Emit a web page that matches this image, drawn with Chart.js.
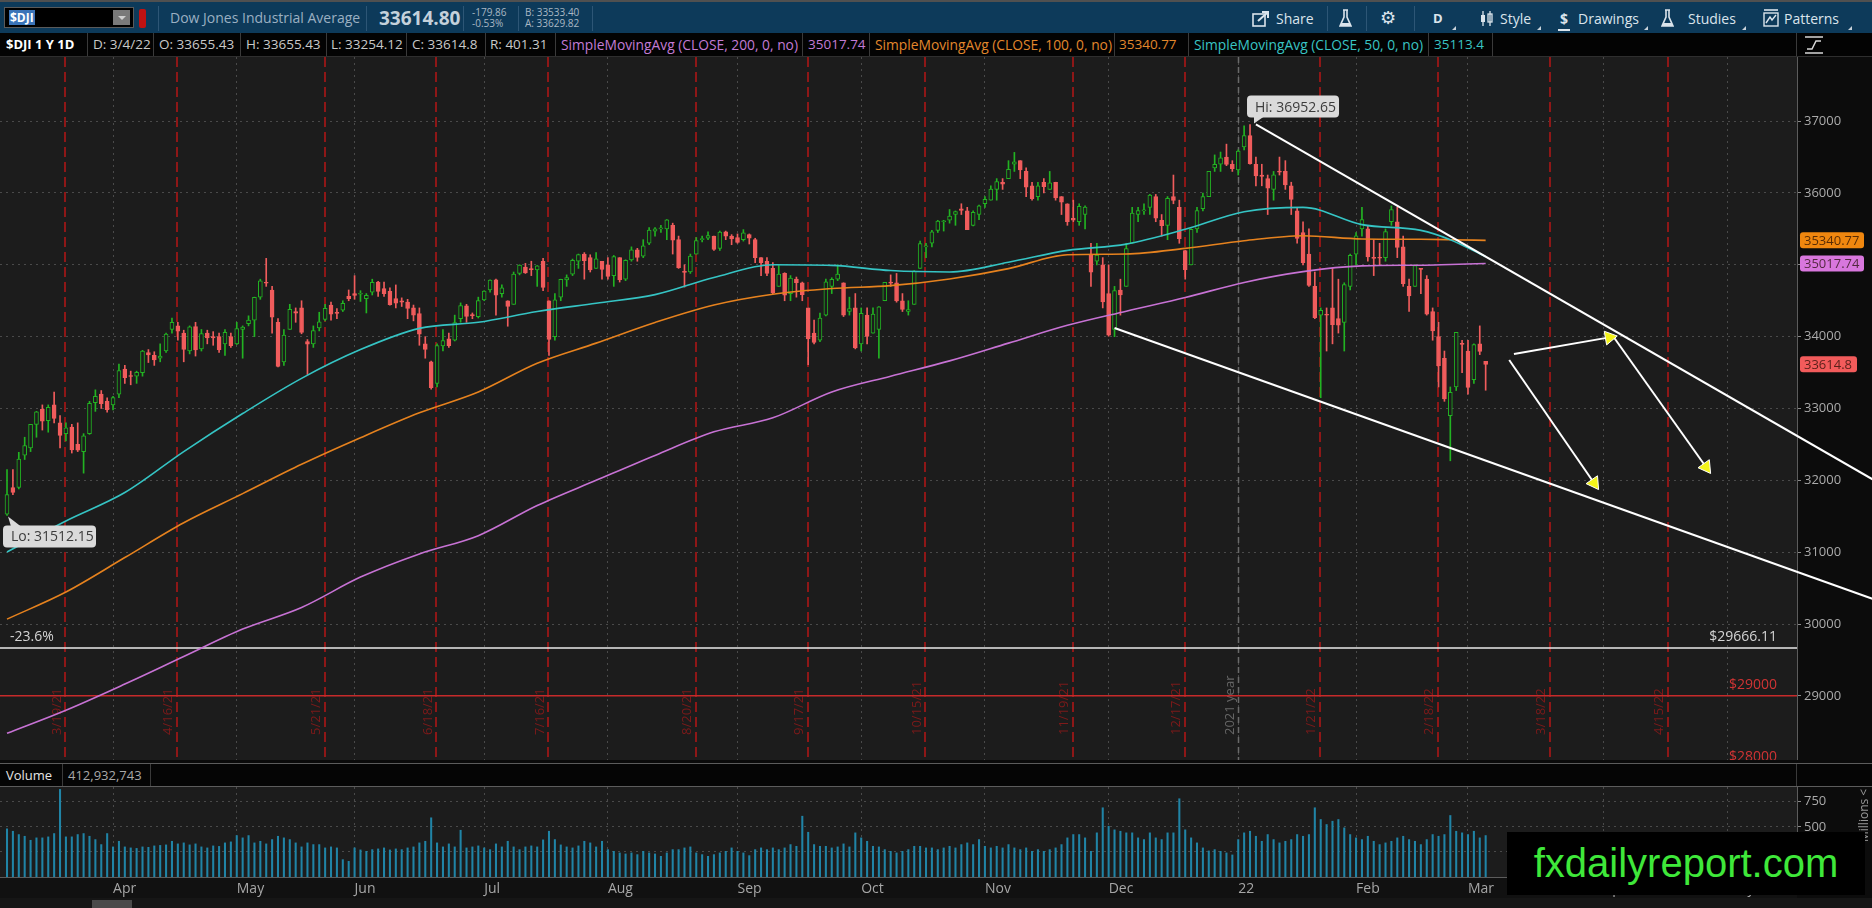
<!DOCTYPE html>
<html>
<head>
<meta charset="utf-8">
<title>$DJI 1 Y 1D</title>
<script src="https://cdn.jsdelivr.net/npm/chart.js@4.4.1/dist/chart.umd.min.js"></script>
<style>
  html, body { margin: 0; padding: 0; background: #0c0c0c; }
  body { width: 1872px; height: 908px; overflow: hidden; position: relative; font-family: "Open Sans", "DejaVu Sans", sans-serif; }
  .abs { position: absolute; white-space: nowrap; }
  #topbar { left: 0; top: 0; width: 1872px; height: 33px; background: #0d3a5a; border-top: 2px solid #505050; box-sizing: border-box; }
  #sym { left: 4px; top: 5px; width: 130px; height: 21px; background: #000; border: 1px solid #5a5a5a; box-sizing: border-box; }
  #sym .sel { position: absolute; left: 4px; top: 2px; background: #3b74b8; color: #fff; font-weight: 700; font-size: 12px; line-height: 15px; padding: 0 1px; }
  #sym .dd { position: absolute; right: 3px; top: 2px; width: 17px; height: 15px; background: #7a7a7a; }
  #sym .dd:after { content: ""; position: absolute; left: 5px; top: 6px; border-left: 4px solid transparent; border-right: 4px solid transparent; border-top: 4px solid #d0d0d0; }
  .flag { left: 139px; top: 7px; width: 7px; height: 19px; background: #c01212; border-radius: 2px; }
  .sep { top: 4px; width: 1px; height: 25px; background: #2d5676; }
  .tb { top: 7px; font-size: 14px; color: #dbe4ec; }
  .tri { width: 0; height: 0; border-left: 4px solid transparent; border-bottom: 4px solid #c8d2da; top: 24px; }
  #infobar { left: 0; top: 33px; width: 1872px; height: 24px; background: #030303; border-bottom: 1px solid #2e2e2e; box-sizing: border-box; }
  .cell { top: 0; height: 23px; line-height: 23px; font-size: 13.5px; color: #c9c9c9; }
  .vline { top: 0; width: 1px; height: 23px; background: #3a3a3a; }
  #pricePane { left: 0; top: 57px; width: 1872px; height: 703px; }
  #volHead { left: 0; top: 763px; width: 1872px; height: 24px; background: #050505; border-top: 1px solid #5c5c5c; border-bottom: 1px solid #5c5c5c; box-sizing: border-box; }
  #volPane { left: 0; top: 787px; width: 1872px; height: 111px; }
  #bottomBar { left: 0; top: 898px; width: 1872px; height: 10px; background: #161616; }
  #mark { left: 1507px; top: 832px; width: 358px; height: 63px; background: #000; color: #3fe83a; font-family: "Liberation Sans", Arial, sans-serif; font-size: 40px; line-height: 62px; text-align: center; }
</style>
</head>
<body>

<div id="topbar" class="abs">
  <div id="sym" class="abs"><span class="sel">$DJI</span><div class="dd"></div></div>
  <div class="abs flag"></div>
  <div class="abs sep" style="left:158px"></div>
  <div class="abs" style="left:170px;top:6px;font-size:14px;color:#9bb0c2">Dow Jones Industrial Average</div>
  <div class="abs sep" style="left:366px"></div>
  <div class="abs" style="left:379px;top:3px;font-size:19px;font-weight:700;color:#c4d1db">33614.80</div>
  <div class="abs sep" style="left:463px"></div>
  <div class="abs" style="left:472px;top:5px;font-size:10px;line-height:11px;color:#a9b7c3">-179.86<br>-0.53%</div>
  <div class="abs sep" style="left:518px"></div>
  <div class="abs" style="left:525px;top:5px;font-size:10px;line-height:11px;color:#a9b7c3">B: 33533.40<br>A: 33629.82</div>
  <div class="abs sep" style="left:592px"></div>

  <svg class="abs" style="left:1252px;top:8px" width="18" height="17" viewBox="0 0 18 17"><rect x="1" y="4" width="12" height="12" fill="none" stroke="#dbe4ec" stroke-width="1.6"/><path d="M6 11 L15 3 M10 2 L16 2 L16 8" stroke="#dbe4ec" stroke-width="2" fill="none"/></svg>
  <div class="abs tb" style="left:1276px">Share</div>
  <div class="abs sep" style="left:1327px"></div>
  <svg class="abs" style="left:1339px;top:7px" width="13" height="19" viewBox="0 0 13 19"><path d="M4 1 L9 1 M5 1 L5 8 L1 17 L12 17 L8 8 L8 1" stroke="#dbe4ec" stroke-width="1.6" fill="none"/><path d="M2.5 14 L10.5 14 L12 17 L1 17 Z" fill="#dbe4ec"/></svg>
  <div class="abs sep" style="left:1366px"></div>
  <div class="abs" style="left:1380px;top:3px;font-size:18px;color:#dbe4ec">&#9881;</div>
  <div class="abs sep" style="left:1414px"></div>
  <div class="abs tb" style="left:1433px;font-weight:700;font-size:13px">D</div>
  <div class="abs tri" style="left:1452px"></div>
  <svg class="abs" style="left:1479px;top:8px" width="16" height="17" viewBox="0 0 16 17"><path d="M4 1 L4 16 M11 1 L11 16" stroke="#dbe4ec" stroke-width="1.3"/><rect x="2" y="5" width="4" height="7" fill="#dbe4ec"/><rect x="9" y="4" width="4" height="8" fill="none" stroke="#dbe4ec" stroke-width="1.3"/></svg>
  <div class="abs tb" style="left:1500px">Style</div>
  <div class="abs tri" style="left:1537px"></div>
  <div class="abs tb" style="left:1560px;font-weight:700">$</div>
  <div class="abs" style="left:1558px;top:27px;width:12px;height:2px;background:#dbe4ec"></div>
  <div class="abs tb" style="left:1578px">Drawings</div>
  <div class="abs tri" style="left:1644px"></div>
  <svg class="abs" style="left:1661px;top:7px" width="13" height="19" viewBox="0 0 13 19"><path d="M4 1 L9 1 M5 1 L5 8 L1 17 L12 17 L8 8 L8 1" stroke="#dbe4ec" stroke-width="1.6" fill="none"/><path d="M2.5 14 L10.5 14 L12 17 L1 17 Z" fill="#dbe4ec"/></svg>
  <div class="abs tb" style="left:1688px">Studies</div>
  <div class="abs tri" style="left:1742px"></div>
  <svg class="abs" style="left:1763px;top:7px" width="16" height="18" viewBox="0 0 16 18"><rect x="1" y="4" width="14" height="13" fill="none" stroke="#dbe4ec" stroke-width="1.4"/><path d="M1 1 L15 1" stroke="#dbe4ec" stroke-width="1.6"/><path d="M3 14 L7 8 L9 11 L13 6" stroke="#dbe4ec" stroke-width="1.4" fill="none"/></svg>
  <div class="abs tb" style="left:1784px">Patterns</div>
  <div class="abs tri" style="left:1848px"></div>
</div>

<div id="infobar" class="abs">
  <div class="abs cell" style="left:6px;color:#fff;font-weight:700;font-size:13px">$DJI 1 Y 1D</div>
  <div class="abs vline" style="left:87px"></div>
  <div class="abs cell" style="left:93px">D: 3/4/22</div>
  <div class="abs vline" style="left:153px"></div>
  <div class="abs cell" style="left:159px">O: 33655.43</div>
  <div class="abs vline" style="left:240px"></div>
  <div class="abs cell" style="left:246px">H: 33655.43</div>
  <div class="abs vline" style="left:326px"></div>
  <div class="abs cell" style="left:331px">L: 33254.12</div>
  <div class="abs vline" style="left:406px"></div>
  <div class="abs cell" style="left:412px">C: 33614.8</div>
  <div class="abs vline" style="left:485px"></div>
  <div class="abs cell" style="left:490px">R: 401.31</div>
  <div class="abs vline" style="left:555px"></div>
  <div class="abs cell" style="left:561px;color:#c27bd5;font-size:13.8px">SimpleMovingAvg (CLOSE, 200, 0, no)</div>
  <div class="abs vline" style="left:802px"></div>
  <div class="abs cell" style="left:808px;color:#c27bd5">35017.74</div>
  <div class="abs vline" style="left:869px"></div>
  <div class="abs cell" style="left:875px;color:#e2872c;font-size:13.8px">SimpleMovingAvg (CLOSE, 100, 0, no)</div>
  <div class="abs vline" style="left:1114px"></div>
  <div class="abs cell" style="left:1119px;color:#e2872c">35340.77</div>
  <div class="abs vline" style="left:1188px"></div>
  <div class="abs cell" style="left:1194px;color:#39c4c4;font-size:13.8px">SimpleMovingAvg (CLOSE, 50, 0, no)</div>
  <div class="abs vline" style="left:1428px"></div>
  <div class="abs cell" style="left:1434px;color:#39c4c4">35113.4</div>
  <div class="abs vline" style="left:1492px"></div>
  <div class="abs vline" style="left:1796px"></div>
  <svg class="abs" style="left:1804px;top:3px" width="20" height="18" viewBox="0 0 20 18"><path d="M1 1 L19 1 M1 17 L19 17" stroke="#d8d8d8" stroke-width="1.5"/><path d="M3 13 L8 13 L12 5 L17 5" stroke="#d8d8d8" stroke-width="1.5" fill="none"/></svg>
</div>

<div id="pricePane" class="abs"><canvas id="priceChart"></canvas></div>
<div class="abs" style="left:0;top:760px;width:1872px;height:3px;background:#0a0a0a"></div>

<div id="volHead" class="abs">
  <div class="abs cell" style="left:6px;color:#e4e4e4;height:22px;line-height:22px;font-size:13px">Volume</div>
  <div class="abs vline" style="left:62px;height:22px"></div>
  <div class="abs cell" style="left:68px;height:22px;line-height:22px;color:#a8a8a8;font-size:13px">412,932,743</div>
  <div class="abs vline" style="left:150px;height:22px"></div>
  <div class="abs vline" style="left:1796px;height:22px"></div>
</div>
<div id="volPane" class="abs"><canvas id="volChart"></canvas></div>
<div class="abs" style="left:1855px;top:842px;transform:rotate(-90deg);transform-origin:left top;font-size:12px;color:#9a9a9a">Millions &lt;</div>
<div id="bottomBar" class="abs"><div class="abs" style="left:92px;top:2px;width:40px;height:8px;background:#4a4a4a"></div></div>
<div id="mark" class="abs">fxdailyreport.com</div>

<script>
// trading days, index 0 = 3/8/21
const dates = [
  "3/8/21","3/9/21","3/10/21","3/11/21","3/12/21","3/15/21","3/16/21","3/17/21","3/18/21","3/19/21","3/22/21","3/23/21","3/24/21","3/25/21","3/26/21","3/29/21","3/30/21","3/31/21",
  "4/1/21","4/5/21","4/6/21","4/7/21","4/8/21","4/9/21","4/12/21","4/13/21","4/14/21","4/15/21","4/16/21","4/19/21","4/20/21","4/21/21","4/22/21","4/23/21","4/26/21","4/27/21","4/28/21","4/29/21","4/30/21",
  "5/3/21","5/4/21","5/5/21","5/6/21","5/7/21","5/10/21","5/11/21","5/12/21","5/13/21","5/14/21","5/17/21","5/18/21","5/19/21","5/20/21","5/21/21","5/24/21","5/25/21","5/26/21","5/27/21","5/28/21",
  "6/1/21","6/2/21","6/3/21","6/4/21","6/7/21","6/8/21","6/9/21","6/10/21","6/11/21","6/14/21","6/15/21","6/16/21","6/17/21","6/18/21","6/21/21","6/22/21","6/23/21","6/24/21","6/25/21","6/28/21","6/29/21","6/30/21",
  "7/1/21","7/2/21","7/6/21","7/7/21","7/8/21","7/9/21","7/12/21","7/13/21","7/14/21","7/15/21","7/16/21","7/19/21","7/20/21","7/21/21","7/22/21","7/23/21","7/26/21","7/27/21","7/28/21","7/29/21","7/30/21",
  "8/2/21","8/3/21","8/4/21","8/5/21","8/6/21","8/9/21","8/10/21","8/11/21","8/12/21","8/13/21","8/16/21","8/17/21","8/18/21","8/19/21","8/20/21","8/23/21","8/24/21","8/25/21","8/26/21","8/27/21","8/30/21","8/31/21",
  "9/1/21","9/2/21","9/3/21","9/7/21","9/8/21","9/9/21","9/10/21","9/13/21","9/14/21","9/15/21","9/16/21","9/17/21","9/20/21","9/21/21","9/22/21","9/23/21","9/24/21","9/27/21","9/28/21","9/29/21","9/30/21",
  "10/1/21","10/4/21","10/5/21","10/6/21","10/7/21","10/8/21","10/11/21","10/12/21","10/13/21","10/14/21","10/15/21","10/18/21","10/19/21","10/20/21","10/21/21","10/22/21","10/25/21","10/26/21","10/27/21","10/28/21","10/29/21",
  "11/1/21","11/2/21","11/3/21","11/4/21","11/5/21","11/8/21","11/9/21","11/10/21","11/11/21","11/12/21","11/15/21","11/16/21","11/17/21","11/18/21","11/19/21","11/22/21","11/23/21","11/24/21","11/26/21","11/29/21","11/30/21",
  "12/1/21","12/2/21","12/3/21","12/6/21","12/7/21","12/8/21","12/9/21","12/10/21","12/13/21","12/14/21","12/15/21","12/16/21","12/17/21","12/20/21","12/21/21","12/22/21","12/23/21","12/27/21","12/28/21","12/29/21","12/30/21","12/31/21",
  "1/3/22","1/4/22","1/5/22","1/6/22","1/7/22","1/10/22","1/11/22","1/12/22","1/13/22","1/14/22","1/18/22","1/19/22","1/20/22","1/21/22","1/24/22","1/25/22","1/26/22","1/27/22","1/28/22","1/31/22",
  "2/1/22","2/2/22","2/3/22","2/4/22","2/7/22","2/8/22","2/9/22","2/10/22","2/11/22","2/14/22","2/15/22","2/16/22","2/17/22","2/18/22","2/22/22","2/23/22","2/24/22","2/25/22","2/28/22",
  "3/1/22","3/2/22","3/3/22","3/4/22"
];

const openPx = [
  31530,31900,31900,32350,32450,32780,32990,32830,33050,32800,32650,32740,32500,32400,32650,33080,33200,33100,
  33050,33200,33550,33450,33450,33500,33780,33740,33700,33800,34100,34150,34050,33800,34140,33830,34050,34000,34000,33900,34000,
  33900,34100,34180,34230,34550,34750,34650,34200,33650,34100,34350,34400,33930,33900,34120,34240,34440,34340,34370,34560,
  34600,34590,34530,34620,34760,34670,34630,34530,34500,34480,34400,34320,33900,33650,33350,33870,33970,33950,34250,34430,34300,34280,
  34510,34650,34790,34600,34500,34450,34880,34970,34940,34930,35050,34500,34000,34550,34790,34870,35050,35150,35100,34950,35050,
  35000,34850,35100,34800,35070,35210,35120,35300,35470,35500,35500,35550,35350,34900,34900,35150,35350,35370,35400,35230,35460,35400,
  35380,35350,35420,35350,35100,35050,34950,34700,34880,34600,34800,34750,34400,34050,33950,34300,34700,34800,34750,34350,34400,
  33900,34300,34050,34100,34500,34750,34750,34500,34350,34450,34950,35250,35300,35480,35600,35620,35700,35780,35750,35550,35700,
  35850,35900,36050,36150,36200,36400,36450,36300,36100,35950,36150,36050,36150,35950,35850,35650,35600,35700,35150,35050,35000,
  34600,34100,34650,34700,35300,35700,35750,35800,35950,35620,35550,35950,35800,35200,35000,35500,35780,35950,36350,36400,36500,36400,
  36320,36640,36800,36400,36250,36200,36050,36300,36300,36100,35750,35450,35150,34700,34300,34300,34400,34250,34200,34700,
  35150,35500,35500,35100,35100,35100,35600,35600,35250,34700,34700,34950,34800,34350,34000,33700,32900,33300,33900,
  33800,33400,33900,33655.43
];
const highPx = [
  32150,32150,32390,32600,32780,32960,33050,33050,33230,32900,32800,32780,32800,32650,33100,33260,33250,33150,
  33170,33620,33600,33520,33520,33810,33820,33790,33900,34050,34260,34200,34090,34150,34200,34100,34090,34070,34050,34100,34050,
  34200,34150,34290,34550,34800,35090,34700,34250,34100,34450,34400,34500,33960,34150,34340,34450,34480,34390,34500,34650,
  34850,34640,34600,34800,34770,34760,34680,34720,34540,34520,34440,34400,34000,33660,33900,34100,34050,34300,34470,34450,34330,34550,
  34640,34790,34800,34720,34500,34900,35000,35020,35050,34990,35090,34500,34600,34800,34860,35080,35150,35170,35140,35170,35050,
  35100,35130,35100,35070,35250,35230,35350,35520,35520,35550,35630,35580,35400,35000,35150,35380,35400,35460,35400,35470,35470,35420,
  35430,35490,35430,35370,35100,35100,35030,34990,34890,34850,34830,34760,34400,34230,34330,34800,34820,35000,34750,34550,34600,
  34400,34400,34400,34420,34750,34860,34880,34600,34500,34920,35330,35300,35480,35620,35620,35770,35750,35850,35800,35750,35830,
  35950,36100,36200,36200,36450,36565,36450,36350,36150,36150,36200,36300,36150,35950,35850,35900,35850,35820,35300,35300,35100,
  35000,34700,34800,35300,35800,35800,35850,35980,35980,35700,35950,36250,35900,35200,35500,35800,36000,36300,36530,36570,36680,36450,
  36600,36935,36952.65,36500,36400,36250,36300,36500,36450,36150,35800,35600,35500,34900,34400,34400,34950,34800,34750,35150,
  35450,35800,35550,35350,35300,35500,35820,35800,35400,34800,35000,34950,34850,34400,34200,33800,33300,34060,33950,
  33950,33900,34150,33655.43
];
const lowPx = [
  31512.15,31800,31880,32290,32400,32600,32700,32670,32800,32450,32550,32380,32400,32100,32640,32960,33000,32950,
  32980,33150,33350,33330,33350,33450,33640,33600,33650,33780,34050,33950,33650,33760,33730,33800,33900,33880,33780,33740,33850,
  33890,33700,34150,34000,34520,34700,34050,33580,33600,34100,34200,34040,33473,33850,34080,34220,34230,34250,34350,34500,
  34520,34490,34330,34580,34560,34560,34440,34400,34420,34250,34220,33880,33700,33270,33300,33800,33850,33940,34200,34200,34250,34260,
  34500,34620,34300,34550,34145,34450,34860,34880,34850,34700,34640,33740,33950,34500,34700,34850,34950,34800,34900,34950,34800,
  34800,34700,34760,34780,35050,35050,35100,35280,35400,35450,35350,35150,34950,34690,34880,35150,35320,35350,35200,35200,35350,35280,
  35300,35330,35290,35030,34850,34850,34600,34700,34500,34500,34550,34500,33610,33900,33930,34290,34600,34780,34280,34300,33830,
  33800,33900,34050,33700,34500,34700,34480,34350,34300,34450,34950,35100,35250,35450,35470,35580,35550,35700,35490,35540,35630,
  35800,35900,35900,36050,36200,36300,36200,35950,35900,35900,36000,36050,35900,35700,35550,35600,35550,35500,34700,35000,34400,
  34006,34000,34300,34700,35300,35600,35700,35700,35600,35400,35350,35850,35300,34800,35000,35450,35750,35950,36300,36300,36380,36300,
  36250,36600,36400,36100,36100,35700,35900,36250,36050,35700,35300,35000,34700,34250,33150,33800,33900,34050,33800,34650,
  35000,35400,35050,34850,35000,35050,35550,35100,34700,34350,34700,34600,34300,33950,33300,33100,32272,33250,33500,
  33200,33350,33750,33254.12
];
const closePx = [
  31802,31832,32297,32485,32779,32953,32825,33015,32862,32627,32731,32423,32420,32619,33072,33171,33067,32982,
  33153,33527,33430,33446,33503,33801,33745,33677,33730,34035,34200,34077,33821,34137,33815,34043,33981,33984,33820,34060,33874,
  34113,34133,34230,34548,34778,34743,34270,33587,34021,34382,34327,34060,33896,34084,34208,34394,34312,34323,34465,34529,
  34575,34600,34577,34756,34630,34599,34447,34466,34480,34394,34299,34033,33823,33290,33876,33945,33874,34196,34433,34283,34292,34503,
  34633,34786,34577,34681,34421,34870,34996,34889,34933,34987,34687,33962,34512,34798,34823,35061,35144,35058,34930,35085,34935,
  34838,35116,34793,35064,35209,35102,35264,35485,35500,35515,35625,35343,34961,34894,35120,35336,35367,35406,35214,35456,35400,35361,
  35313,35444,35370,35100,35031,34879,34608,34870,34578,34814,34751,34585,33970,33919,34258,34765,34798,34870,34300,34391,33844,
  34326,34003,34315,34417,34755,34746,34496,34378,34377,34912,35295,35259,35458,35609,35603,35677,35741,35757,35491,35731,35820,
  35913,36053,36158,36124,36328,36432,36320,36080,35921,36100,36087,36143,35931,35871,35602,35620,35814,35805,34899,35136,34484,
  34022,34640,34580,35227,35719,35754,35754,35971,35650,35544,35927,35898,35365,34932,35493,35754,35950,36302,36398,36488,36398,36338,
  36585,36800,36408,36236,36231,36068,36252,36290,36114,35912,35369,35029,34715,34265,34365,34298,34168,34160,34725,35132,
  35405,35630,35111,35089,35092,35463,35768,35242,34738,34566,34989,34935,34312,34079,33597,33132,33224,34059,33893,
  33295,33891,33795,33614.8
];
// volume, millions
const volumeM = [
  480,456,423,406,366,390,390,400,433,873,400,400,423,433,406,373,323,433,
  300,356,300,290,285,300,296,310,315,320,356,330,340,320,330,300,290,310,305,340,350,
  413,390,413,340,356,330,373,406,390,373,340,300,340,323,323,290,300,290,173,156,
  290,270,256,273,280,290,270,280,273,290,300,340,356,590,340,300,330,300,466,290,300,310,
  290,273,330,300,356,300,273,300,310,300,370,456,373,320,300,290,310,356,340,300,356,
  273,256,240,230,240,223,256,240,230,206,240,273,273,290,300,240,223,206,223,240,256,290,
  256,240,213,273,290,273,290,273,290,323,306,606,446,323,306,306,290,300,330,300,440,
  390,356,306,300,273,256,240,256,273,306,306,290,290,273,290,306,290,323,340,323,373,
  306,290,306,290,323,290,273,290,256,273,256,273,290,323,390,423,423,390,256,440,690,
  506,470,456,440,440,390,373,440,390,373,440,440,780,470,390,340,290,260,273,256,240,220,
  373,440,456,406,356,423,373,340,356,373,423,406,423,690,573,523,556,573,490,423,
  390,373,406,356,323,340,356,390,406,373,356,323,373,423,406,423,613,456,440,
  423,456,390,413
];

// moving averages at these bar indices
const maIdx  = [0, 10, 20, 30, 40, 50, 60, 70, 80, 90, 100, 110, 120, 130, 140, 150, 160, 170, 180, 190, 200, 210, 220, 230, 240, 245, 251];
const sma50  = [31003,31435,31830,32400,32930,33420,33820,34115,34200,34350,34466,34585,34824,35001,34992,34920,34900,35036,35201,35288,35494,35740,35800,35560,35480,35350,35113.4];
const sma100 = [30068,30445,30925,31410,31815,32223,32593,32940,33230,33630,33910,34197,34440,34590,34670,34710,34803,34947,35140,35150,35229,35335,35405,35360,35355,35350,35340.77];
const sma200 = [28479,28800,29164,29547,29929,30230,30653,30976,31230,31650,32000,32347,32675,32870,33230,33450,33663,33910,34158,34355,34545,34755,34905,34985,34995,35005,35017.74];

const priceTicks = [29000, 30000, 31000, 32000, 33000, 34000, 35000, 36000, 37000];
const volumeTicks = [250, 500, 750];
const monthIdx = [18, 39, 59, 81, 102, 124, 145, 166, 187, 209, 229, 248, 271, 292];
const monthLabels = ["Apr", "May", "Jun", "Jul", "Aug", "Sep", "Oct", "Nov", "Dec", "22", "Feb", "Mar", "Apr", "May"];
const expiryIdx = [9, 28, 53, 72, 91, 116, 135, 155, 180, 199, 222, 242, 261, 281];
const expiryLabels = ["3/19/21", "4/16/21", "5/21/21", "6/18/21", "7/16/21", "8/20/21", "9/17/21", "10/15/21", "11/19/21", "12/17/21", "1/21/22", "2/18/22", "3/18/22", "4/15/22"];
const yearIdx = 209;

const fibLevel = 29666.11, roundLevel = 29000, lowLevel = 28000;
// drawings: [bar index, price]
const upperTrend = [[212, 36955], [317, 31999]];
const lowerTrend = [[188, 34120], [317, 30341]];
const arrowPaths = [
  [[255.8, 33759], [272.0, 33990]],
  [[272.6, 34009], [288.4, 32186]],
  [[255.0, 33675], [269.4, 31963]]
];

const xMin = -1.19, xMax = 303.85;
const upColor = "#22b322", downColor = "#f05c5c";
const last = closePx.length - 1;

Chart.defaults.font.family = "'Open Sans', sans-serif";
Chart.defaults.animation = false;

const isUp = i => closePx[i] >= openPx[i];
const pts = arr => arr.map(p => ({ x: p[0], y: p[1] }));

function clipArea(ctx, a) {
    ctx.beginPath();
    ctx.rect(a.left, a.top, a.right - a.left, a.bottom - a.top);
    ctx.clip();
}

function tag(ctx, x0, yc, text, bg, w) {
    ctx.fillStyle = bg;
    ctx.beginPath();
    ctx.roundRect(x0, yc - 8, w, 16, 3);
    ctx.fill();
    ctx.fillStyle = "rgba(30,10,0,0.72)";
    ctx.font = "13px 'Open Sans'";
    ctx.textAlign = "left";
    ctx.textBaseline = "middle";
    ctx.fillText(text, x0 + 4, yc + 1);
}

// keep plot areas flush with the canvas edges
const noPadX = s => { s.paddingLeft = 0; s.paddingRight = 0; };
const noPadY = s => { s.paddingTop = 0; s.paddingBottom = 0; };

const priceMarks = {
    id: "priceMarks",
    beforeDraw(chart) {
        const {ctx, chartArea: a} = chart;
        ctx.save();
        ctx.fillStyle = "#1c1c1c";
        ctx.fillRect(a.left, a.top, a.right - a.left, a.bottom - a.top);
        ctx.restore();
    },
    beforeDatasetsDraw(chart) {
        const {ctx, chartArea: a, scales: {x}} = chart;
        ctx.save();
        clipArea(ctx, a);
        // option expiration lines
        ctx.lineWidth = 2;
        ctx.strokeStyle = "#8e1717";
        ctx.setLineDash([10, 5]);
        expiryIdx.forEach(i => {
            const px = Math.round(x.getPixelForValue(i + 0.9));
            ctx.beginPath(); ctx.moveTo(px, a.top); ctx.lineTo(px, a.bottom); ctx.stroke();
        });
        // year break
        const yx = Math.round(x.getPixelForValue(yearIdx)) + 0.5;
        ctx.lineWidth = 1.5;
        ctx.strokeStyle = "#6a6a6a";
        ctx.setLineDash([6, 4]);
        ctx.beginPath(); ctx.moveTo(yx, a.top); ctx.lineTo(yx, a.bottom); ctx.stroke();
        ctx.setLineDash([]);

        ctx.font = "13px 'Open Sans'";
        ctx.textAlign = "left";
        ctx.textBaseline = "bottom";
        const base = a.bottom - 25;
        ctx.fillStyle = "#7e1a1a";
        expiryIdx.forEach((i, k) => {
            const px = x.getPixelForValue(i + 0.9);
            ctx.save(); ctx.translate(px - 2, base); ctx.rotate(-Math.PI / 2);
            ctx.fillText(expiryLabels[k], 0, 0); ctx.restore();
        });
        ctx.fillStyle = "#666";
        ctx.save(); ctx.translate(yx - 2, base); ctx.rotate(-Math.PI / 2);
        ctx.fillText("2021 year", 0, 0); ctx.restore();
        ctx.restore();
    },
    afterDatasetsDraw(chart) {
        const {ctx, chartArea: a, scales: {x, y}} = chart;
        ctx.save();
        clipArea(ctx, a);
        ctx.font = "14px 'Open Sans'";
        ctx.textBaseline = "alphabetic";
        ctx.fillStyle = "#d4d4d4";
        ctx.textAlign = "right";
        ctx.fillText("$" + fibLevel.toFixed(2), a.right - 20, y.getPixelForValue(fibLevel) - 7);
        ctx.textAlign = "left";
        ctx.fillText("-23.6%", 10, y.getPixelForValue(fibLevel) - 7);
        ctx.fillStyle = "#d03434";
        ctx.textAlign = "right";
        ctx.fillText("$" + roundLevel, a.right - 20, y.getPixelForValue(roundLevel) - 7);
        ctx.fillText("$" + lowLevel, a.right - 20, y.getPixelForValue(lowLevel) - 7);

        // Hi / Lo bubbles
        const hiIdx = highPx.indexOf(Math.max(...highPx));
        const loIdx = lowPx.indexOf(Math.min(...lowPx));
        const hx = x.getPixelForValue(hiIdx), hy = y.getPixelForValue(highPx[hiIdx]);
        const lx = x.getPixelForValue(loIdx), ly = y.getPixelForValue(lowPx[loIdx]);
        ctx.fillStyle = "#dadada";
        ctx.beginPath(); ctx.roundRect(hx - 3, hy - 29, 92, 22, 4); ctx.fill();
        ctx.beginPath(); ctx.moveTo(hx + 4, hy - 8); ctx.lineTo(hx + 14, hy - 8); ctx.lineTo(hx + 4, hy - 1); ctx.fill();
        ctx.beginPath(); ctx.roundRect(lx - 4, ly + 10, 93, 22, 4); ctx.fill();
        ctx.beginPath(); ctx.moveTo(lx + 1, ly + 1); ctx.lineTo(lx + 4, ly + 11); ctx.lineTo(lx + 14, ly + 11); ctx.fill();
        ctx.fillStyle = "#3c3c3c";
        ctx.textAlign = "left";
        ctx.fillText("Hi: " + highPx[hiIdx].toFixed(2), hx + 5, hy - 13);
        ctx.fillText("Lo: " + lowPx[loIdx].toFixed(2), lx + 4, ly + 26);
        ctx.restore();

        // value tags on the price axis
        ctx.save();
        const tx = a.right + 3;
        tag(ctx, tx, y.getPixelForValue(sma100[sma100.length - 1]), String(sma100[sma100.length - 1]), "#f0870f", 64);
        tag(ctx, tx, y.getPixelForValue(sma200[sma200.length - 1]), String(sma200[sma200.length - 1]), "#d877dd", 64);
        tag(ctx, tx, y.getPixelForValue(closePx[last]), String(closePx[last]), "#f25b5b", 57);
        ctx.restore();
    }
};

const arrowSets = arrowPaths.map(p => ({
    type: "line",
    data: pts(p),
    borderColor: "#ffffff",
    borderWidth: 2,
    pointRadius: [0, 8],
    pointHoverRadius: 0,
    pointStyle: "triangle",
    pointBackgroundColor: "#f3f31a",
    pointBorderColor: "#ffffff",
    pointBorderWidth: 1,
    rotation: ctx => {
        const s = ctx.chart.scales, d = ctx.dataset.data;
        const dx = s.x.getPixelForValue(d[1].x) - s.x.getPixelForValue(d[0].x);
        const dy = s.y.getPixelForValue(d[1].y) - s.y.getPixelForValue(d[0].y);
        return Math.atan2(dy, dx) * 180 / Math.PI + 90;
    },
    clip: false
}));

const trendSets = [upperTrend, lowerTrend].map(p => ({
    type: "line", data: pts(p), borderColor: "#ffffff", borderWidth: 2, pointRadius: 0, clip: false
}));

const maSet = (vals, color) => ({
    type: "line",
    data: maIdx.map((v, k) => ({ x: v, y: vals[k] })),
    borderColor: color,
    borderWidth: 1.6,
    pointRadius: 0,
    cubicInterpolationMode: "monotone"
});

const levelSet = (v, color) => ({
    type: "line",
    data: [{ x: xMin, y: v }, { x: xMax, y: v }],
    borderColor: color,
    borderWidth: 1.5,
    pointRadius: 0
});

const priceChart = new Chart(document.getElementById("priceChart"), {
    type: "bar",
    data: {
        datasets: [
            ...arrowSets,
            ...trendSets,
            maSet(sma50, "#35c4c4"),
            maSet(sma100, "#e6821e"),
            maSet(sma200, "#c772d4"),
            {
                label: "body",
                data: dates.map((d, i) => ({ x: i, y: [openPx[i], closePx[i]] })),
                backgroundColor: ctx => isUp(ctx.dataIndex) ? "#1c1c1c" : downColor,
                borderColor: ctx => isUp(ctx.dataIndex) ? upColor : downColor,
                borderWidth: 1,
                borderSkipped: false,
                barThickness: 4,
                minBarLength: 1,
                grouped: false
            },
            {
                label: "wick",
                data: dates.map((d, i) => ({ x: i, y: [lowPx[i], highPx[i]] })),
                backgroundColor: ctx => isUp(ctx.dataIndex) ? upColor : downColor,
                barThickness: 1,
                grouped: false
            },
            levelSet(fibLevel, "#e8e8e8"),
            levelSet(roundLevel, "#c62a2a")
        ]
    },
    options: {
        responsive: true,
        maintainAspectRatio: false,
        events: [],
        layout: { padding: 0, autoPadding: false },
        plugins: { legend: { display: false }, tooltip: { enabled: false } },
        scales: {
            x: {
                type: "linear",
                min: xMin,
                max: xMax,
                offset: false,
                grid: { color: "#4a4a4a", drawTicks: false, offset: false },
                border: { display: false, dash: [2, 4] },
                ticks: { display: false },
                afterBuildTicks: s => { s.ticks = monthIdx.map(v => ({ value: v })); },
                afterFit: s => { s.height = 0; noPadX(s); }
            },
            y: {
                position: "right",
                min: 28107,
                max: 37893,
                grid: { color: "#4a4a4a", tickLength: 4, tickColor: "#8a8a8a" },
                border: { display: true, color: "#5c5c5c", width: 1, dash: [2, 4] },
                ticks: { color: "#ababab", font: { size: 13 }, padding: 3, callback: v => String(v) },
                afterBuildTicks: s => { s.ticks = priceTicks.map(v => ({ value: v })); },
                afterFit: s => { s.width = 75; noPadY(s); }
            }
        }
    },
    plugins: [priceMarks]
});

const volBg = {
    id: "volBg",
    beforeDraw(chart) {
        const {ctx, chartArea: a} = chart;
        ctx.save();
        ctx.fillStyle = "#111111";
        ctx.fillRect(0, a.bottom, a.right, chart.height - a.bottom);
        ctx.fillStyle = "#1c1c1c";
        ctx.fillRect(a.left, a.top, a.right - a.left, a.bottom - a.top);
        ctx.restore();
    }
};

const volChart = new Chart(document.getElementById("volChart"), {
    type: "bar",
    data: {
        datasets: [{
            data: dates.map((d, i) => ({ x: i, y: volumeM[i] })),
            backgroundColor: "#2084a6",
            barThickness: 1.4,
            grouped: false
        }]
    },
    options: {
        responsive: true,
        maintainAspectRatio: false,
        events: [],
        layout: { padding: 0, autoPadding: false },
        plugins: { legend: { display: false }, tooltip: { enabled: false } },
        scales: {
            x: {
                type: "linear",
                min: xMin,
                max: xMax,
                offset: false,
                grid: { color: "#4a4a4a", drawTicks: false, offset: false },
                border: { display: true, color: "#5c5c5c", dash: [2, 4] },
                ticks: {
                    color: "#a6a6a6",
                    font: { size: 14 },
                    padding: 4,
                    align: "start",
                    autoSkip: false,
                    maxRotation: 0,
                    callback: v => monthLabels[monthIdx.indexOf(v)]
                },
                afterBuildTicks: s => { s.ticks = monthIdx.map(v => ({ value: v })); },
                afterFit: s => { s.height = 21; noPadX(s); }
            },
            y: {
                position: "right",
                min: 0,
                max: 897,
                grid: { color: "#4a4a4a", tickLength: 4, tickColor: "#8a8a8a" },
                border: { display: true, color: "#5c5c5c", width: 1, dash: [2, 4] },
                ticks: { color: "#ababab", font: { size: 13 }, padding: 3, callback: v => String(v) },
                afterBuildTicks: s => { s.ticks = volumeTicks.map(v => ({ value: v })); },
                afterFit: s => { s.width = 75; noPadY(s); }
            }
        }
    },
    plugins: [volBg]
});
</script>
</body>
</html>
